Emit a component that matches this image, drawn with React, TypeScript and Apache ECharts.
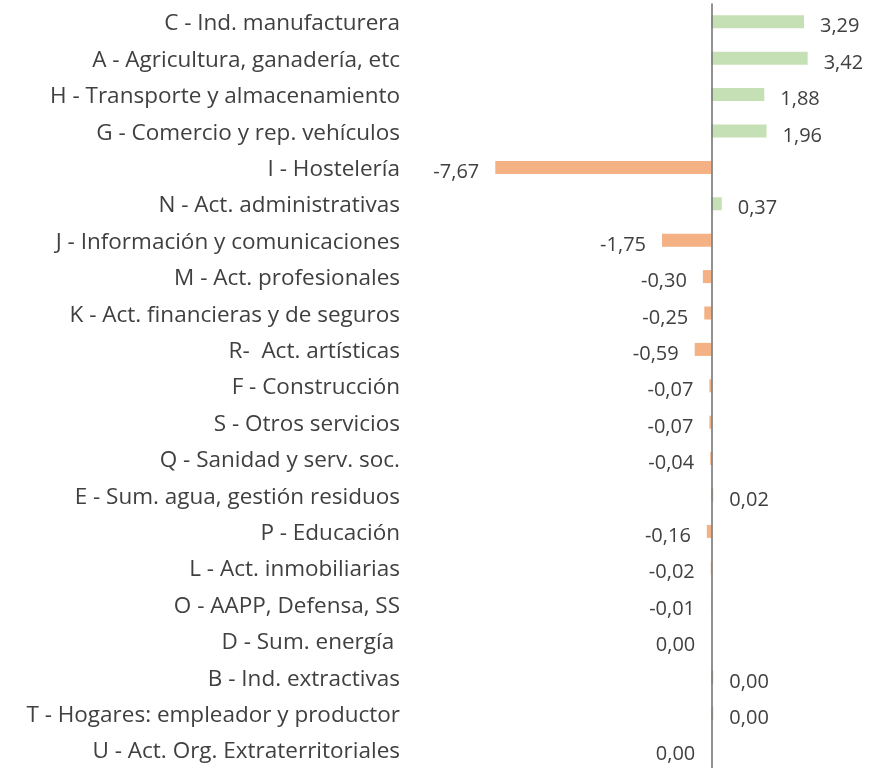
import React, { useEffect, useRef } from "react";
import * as echarts from "echarts";

const categories = [
  "C - Ind. manufacturera",
  "A - Agricultura, ganadería, etc",
  "H - Transporte y almacenamiento",
  "G - Comercio y rep. vehículos",
  "I - Hostelería",
  "N - Act. administrativas",
  "J - Información y comunicaciones",
  "M - Act. profesionales",
  "K - Act. financieras y de seguros",
  "R-  Act. artísticas",
  "F - Construcción",
  "S - Otros servicios",
  "Q - Sanidad y serv. soc.",
  "E - Sum. agua, gestión residuos",
  "P - Educación",
  "L - Act. inmobiliarias",
  "O - AAPP, Defensa, SS",
  "D - Sum. energía ",
  "B - Ind. extractivas",
  "T - Hogares: empleador y productor",
  "U - Act. Org. Extraterritoriales",
];

const values = [
  3.29, 3.42, 1.88, 1.96, -7.67, 0.37, -1.75, -0.3, -0.25, -0.59, -0.07, -0.07,
  -0.04, 0.02, -0.16, -0.02, -0.01, -0.001, 0.001, 0.001, -0.001,
];

const positiveColor = "#C5E0B4";
const negativeColor = "#F4B183";
const textColor = "#404040";
const font = "'Open Sans', sans-serif";

function fmt(v: number): string {
  const r = Math.round(v * 100);
  const sign = r < 0 ? "-" : "";
  return sign + (Math.abs(r) / 100).toFixed(2).replace(".", ",");
}

export default function App() {
  const ref = useRef<HTMLDivElement>(null);
  useEffect(() => {
    if (!ref.current) return;
    const chart = echarts.init(ref.current, undefined, { renderer: "svg" });
    const pos = values.map((v) => (v > 0 ? v : "-"));
    const neg = values.map((v) => (v <= 0 ? v : "-"));
    const labelCommon = {
      show: true,
      distance: 16,
      offset: [0, 3],
      color: textColor,
      fontSize: 20,
      fontFamily: font,
      formatter: (p: any) => fmt(p.value as number),
    };
    chart.setOption({
      animation: false,
      grid: { left: 486, width: 338, top: 3.6, height: 772.8, containLabel: false },
      xAxis: { type: "value", min: -8, max: 4, show: false },
      yAxis: {
        type: "category",
        data: categories,
        inverse: true,
        axisLine: { show: false },
        axisTick: { show: false },
        axisLabel: {
          margin: 86,
          color: textColor,
          fontSize: 22.5,
          fontFamily: font,
        },
      },
      series: [
        {
          type: "bar",
          data: pos,
          barWidth: 13,
          barGap: "-100%",
          barMinHeight: 2,
          itemStyle: { color: positiveColor },
          label: { ...labelCommon, position: "right" },
        },
        {
          type: "bar",
          data: neg,
          barWidth: 13,
          barGap: "-100%",
          itemStyle: { color: negativeColor },
          label: { ...labelCommon, position: "left" },
          markLine: {
            silent: true,
            symbol: "none",
            label: { show: false },
            lineStyle: { color: "#6e6e6e", width: 1.5, type: "solid" },
            data: [{ xAxis: 0 }],
          },
        },
      ],
    });
    return () => chart.dispose();
  }, []);
  return (
    <div
      ref={ref}
      style={{ position: "fixed", left: 0, top: 0, width: 875, height: 768 }}
    />
  );
}
